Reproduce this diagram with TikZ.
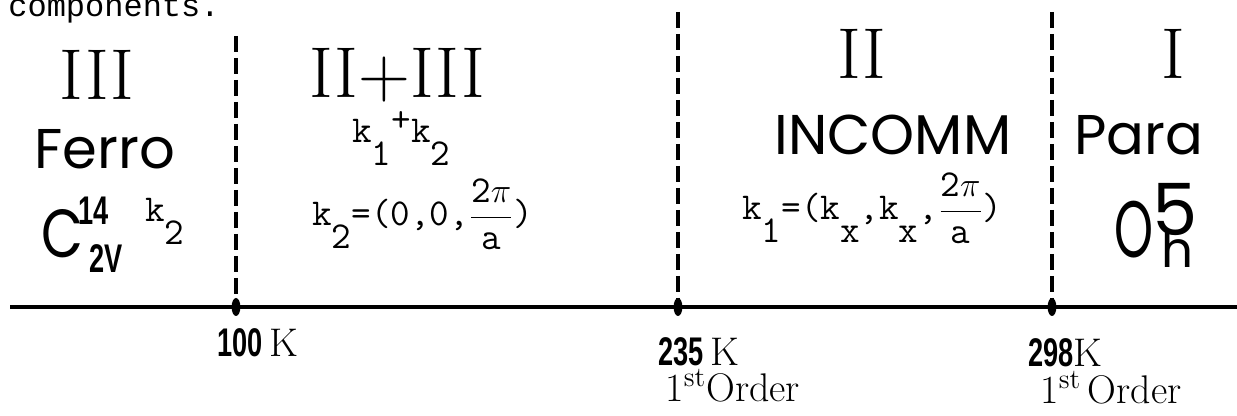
\documentclass[tikz,border=0pt]{standalone}
\usepackage{fontspec}
\newfontfamily\gothic{Poppins}
\newfontfamily\typew{Liberation Mono}
\newfontfamily\narrowsf{Liberation Sans}
\newcommand{\cond}[1]{\scalebox{0.68}[1]{\narrowsf\bfseries #1}}
\newcommand{\slim}[1]{\scalebox{0.62}[1]{#1}}
\newcommand{\lowr}[1]{\raisebox{-0.6em}{#1}}
\newcommand{\twopia}{$\displaystyle\frac{\mbox{2$\pi$}}{\mbox{a}}$}
\begin{document}
\begin{tikzpicture}[x=0.5pt,y=-0.5pt,
  roman/.style={font=\fontsize{36}{40}\selectfont,inner sep=0pt},
  phase/.style={font=\gothic\fontsize{28}{32}\selectfont,inner sep=0pt},
  kvec/.style={font=\ttfamily\fontsize{19}{22}\selectfont,inner sep=0pt,anchor=base west},
  temp/.style={font=\fontsize{20}{22}\selectfont,inner sep=0pt,anchor=base west},
  grp/.style={font=\fontsize{20}{22}\selectfont,inner sep=0pt},
  border/.style={line width=1.6pt,dash pattern=on 8pt off 3pt},
  axis/.style={line width=1.8pt}]
\useasboundingbox[fill=white] (0,0) rectangle (1237,416);
\node[font=\typew\fontsize{16}{18}\selectfont,inner sep=0pt,anchor=base west] (cap) at (8,17) {components.};
% temperature axis and phase borders
\coordinate (a0) at (10,307);
\coordinate (a1) at (1237,307);
\coordinate (t1) at (236,36);  \coordinate (b1) at (236,307);
\coordinate (t2) at (678,12);  \coordinate (b2) at (678,307);
\coordinate (t3) at (1052,12); \coordinate (b3) at (1052,307);
\draw[axis] (a0) -- (a1);
\foreach \i in {1,2,3} {
  \draw[border] (t\i) -- (b\i);
  \fill (b\i) ellipse (2.2pt and 4.5pt);
}
% phase III
\node[roman] (p3) at (97,75) {III};
\node[phase] (ferro) at (105,149) {Ferro};
\node[phase,font=\gothic\fontsize{34}{36}\selectfont] (c2v) at (62,234) {\scalebox{0.8}[1]{C}};
\node[grp] (c14) at (94,211) {\cond{14}};
\node[grp] (c2) at (106,259) {\cond{2V}};
\node[kvec] (kf) at (145,222) {k\lowr{2}};
% phase II+III
\node[roman] (p23) at (397,75) {II+III};
\node[kvec] (ksum) at (352,143) {k\lowr{1}\raisebox{0.3em}{+}k\lowr{2}};
\node[kvec] (ktwo) at (312,226) {k\lowr{2}=(0,0,\twopia)};
% phase II
\node[roman] (p2) at (862,54) {II};
\node[phase] (inc) at (893,135) {INCOMM};
\node[kvec] (kone) at (742,220) {k\lowr{1}=(k\lowr{x},k\lowr{x},\twopia)};
% phase I
\node[roman] (p1) at (1173,54) {I};
\node[phase] (para) at (1139,135) {Para};
\node[phase,font=\gothic\fontsize{40}{42}\selectfont] (oh) at (1134,230) {\slim{O}};
\node[phase,font=\gothic\fontsize{36}{38}\selectfont] (o5) at (1175,210) {5};
\node[phase,font=\gothic\fontsize{25}{27}\selectfont] (oh2) at (1177,249) {h};
% transition temperatures
\node[temp] (k100) at (217,357) {\cond{100}\,K};
\node[temp] (k235) at (658,366) {\cond{235}\,K};
\node[temp] (o235) at (665,402) {1\textsuperscript{st}Order};
\node[temp] (k298) at (1028,367) {\cond{298}K};
\node[temp] (o298) at (1040,404) {1\textsuperscript{st}\,Order};
\end{tikzpicture}
\end{document}
